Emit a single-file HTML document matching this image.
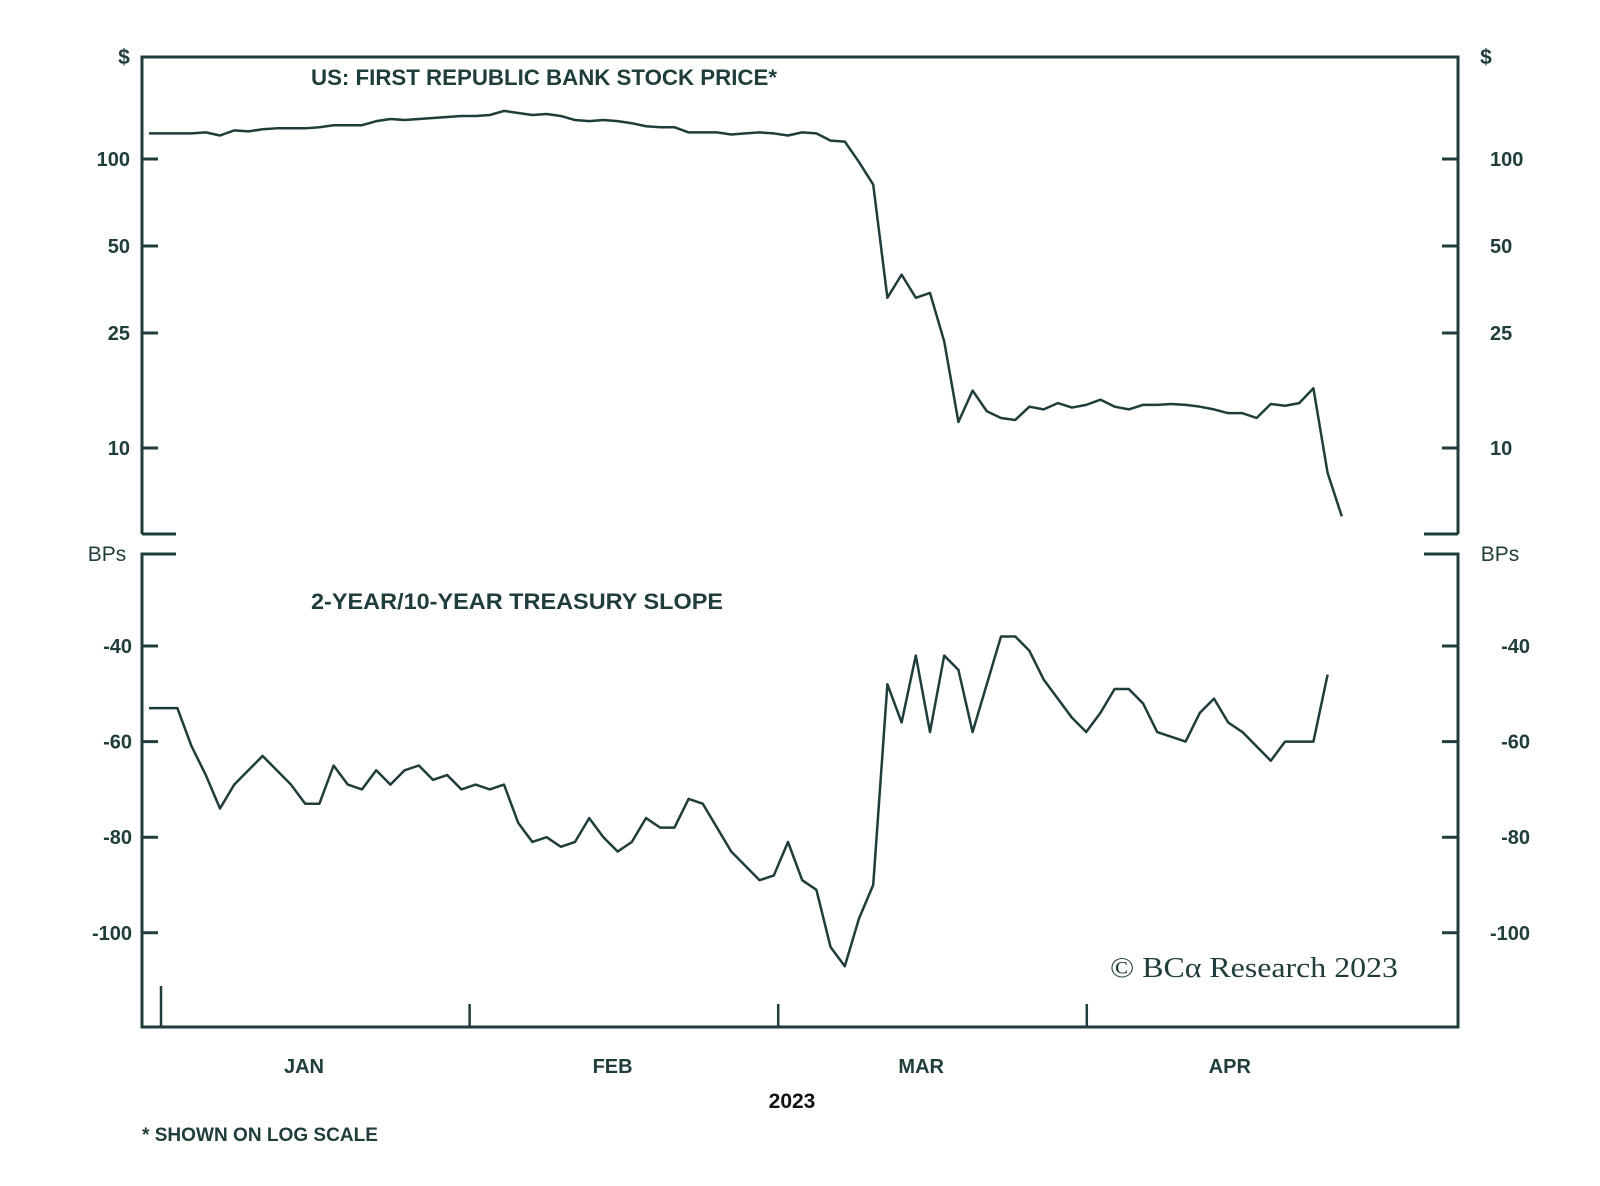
<!DOCTYPE html>
<html><head><meta charset="utf-8">
<style>
html,body{margin:0;padding:0;background:#fff;}
svg{display:block;}
text{font-family:"Liberation Sans",sans-serif;fill:#1f3d3b;}
</style></head>
<body>
<svg id="chart" width="1600" height="1186" viewBox="0 0 1600 1186" xmlns="http://www.w3.org/2000/svg">
<g id="axes"></g>
<g id="series"></g>
<g id="labels">
<text x="124" y="64" font-size="21" font-weight="bold" text-anchor="middle">$</text>
<text x="1486" y="64" font-size="21" font-weight="bold" text-anchor="middle">$</text>
<text x="107" y="561" font-size="21" text-anchor="middle">BPs</text>
<text x="1500" y="561" font-size="21" text-anchor="middle">BPs</text>
<text x="311" y="85" font-size="22" font-weight="bold" textLength="466" lengthAdjust="spacingAndGlyphs">US: FIRST REPUBLIC BANK STOCK PRICE*</text>
<text x="311" y="609" font-size="22" font-weight="bold" textLength="412" lengthAdjust="spacingAndGlyphs">2-YEAR/10-YEAR TREASURY SLOPE</text>
<text x="792" y="1108" font-size="21" font-weight="bold" text-anchor="middle" style="fill:#111">2023</text>
<text x="142" y="1141" font-size="19" font-weight="bold" textLength="236" lengthAdjust="spacingAndGlyphs">* SHOWN ON LOG SCALE</text>
<text x="1110" y="977" font-size="28" style="font-family:'Liberation Serif',serif" textLength="288" lengthAdjust="spacingAndGlyphs">© BCα Research 2023</text>
</g>
</svg>
<script>
const priceValues=[122.6,122.6,122.6,122.6,123.6,120.6,125.6,124.6,126.7,127.7,127.7,127.7,128.8,130.9,130.9,130.9,135.2,137.5,136.4,137.5,138.6,139.7,140.9,140.9,142,146.7,144.3,142,143.1,140.9,136.4,135.2,136.4,135.2,133,129.8,128.8,128.8,123.6,123.6,123.6,121.6,122.6,123.6,122.6,120.6,123.6,122.6,115.8,114.9,97.6,81.6,33.1,39.8,33.1,34.4,23.4,12.3,15.8,13.4,12.7,12.5,13.9,13.6,14.3,13.8,14.1,14.7,13.9,13.6,14.1,14.1,14.2,14.1,13.9,13.6,13.2,13.2,12.7,14.2,14,14.3,16.1,8.2,5.8];
const slopeValues=[-53,-53,-53,-61,-67,-74,-69,-66,-63,-66,-69,-73,-73,-65,-69,-70,-66,-69,-66,-65,-68,-67,-70,-69,-70,-69,-77,-81,-80,-82,-81,-76,-80,-83,-81,-76,-78,-78,-72,-73,-78,-83,-86,-89,-88,-81,-89,-91,-103,-107,-97,-90,-48,-56,-42,-58,-42,-45,-58,-48,-38,-38,-41,-47,-51,-55,-58,-54,-49,-49,-52,-58,-59,-60,-54,-51,-56,-58,-61,-64,-60,-60,-60,-46];
const priceTicks=[100,50,25,10];
const slopeTicks=[-40,-60,-80,-100];
const monthLabels=["JAN","FEB","MAR","APR"];

const NS="http://www.w3.org/2000/svg";
const C="#1f3d3b";
const L=142,R=1458,UT=57,UB=534,LT=554,LB=1027;
const xIdx=i=>149+i*14.2;
const yPrice=v=>159-289*Math.log10(v/100);
const ySlope=v=>646+(-40-v)*4.78;
const xMonth=m=>161+m*308.6;
function el(tag,attrs,parent){const e=document.createElementNS(NS,tag);for(const k in attrs)e.setAttribute(k,attrs[k]);parent.appendChild(e);return e;}
const axes=document.getElementById('axes'),series=document.getElementById('series'),labels=document.getElementById('labels');
const st={stroke:C,'stroke-width':3,fill:'none'};
let p=el('path',Object.assign({d:`M${L},${UB} V${UT} H${R} V${UB} M${L},${UB} h34 M${R},${UB} h-34`},st),axes);


p=el('path',Object.assign({d:`M${L+34},${LT} H${L} V${LB} H${R} V${LT} h-34`},st),axes);


priceTicks.forEach(v=>{const y=yPrice(v);
 let t=el('path',{d:`M${L},${y} h16 M${R},${y} h-16`,stroke:C,'stroke-width':3},axes);
 
 
 let a=el('text',{x:130,y:y+7,'font-size':20,'font-weight':'bold','text-anchor':'end'},labels);a.textContent=v;
 
 
 let b=el('text',{x:1490,y:y+7,'font-size':20,'font-weight':'bold'},labels);b.textContent=v;
 
 
});
slopeTicks.forEach(v=>{const y=ySlope(v);
 let t=el('path',{d:`M${L},${y} h16 M${R},${y} h-16`,stroke:C,'stroke-width':3},axes);
 
 
 let a=el('text',{x:132,y:y+7,'font-size':20,'font-weight':'bold','text-anchor':'end'},labels);a.textContent=v;
 
 
 let b=el('text',{x:1530,y:y+7,'font-size':20,'font-weight':'bold','text-anchor':'end'},labels);b.textContent=v;
 
 
});
for(let m=0;m<4;m++){const x=xMonth(m);
 let t=el('line',{x1:x,x2:x,y1:LB,y2:m===0?986:1004,stroke:C,'stroke-width':2.5},axes);
 
 
 let a=el('text',{x:x+143,y:1073,'font-size':20,'font-weight':'bold','text-anchor':'middle'},labels);a.textContent=monthLabels[m];
 
 
}
let s=el('polyline',{points:priceValues.map((v,i)=>xIdx(i)+','+yPrice(v)).join(' '),stroke:C,'stroke-width':2.5,fill:'none','stroke-linejoin':'round'},series);


s=el('polyline',{points:slopeValues.map((v,i)=>xIdx(i)+','+ySlope(v)).join(' '),stroke:C,'stroke-width':2.5,fill:'none','stroke-linejoin':'round'},series);


</script>
</body></html>
